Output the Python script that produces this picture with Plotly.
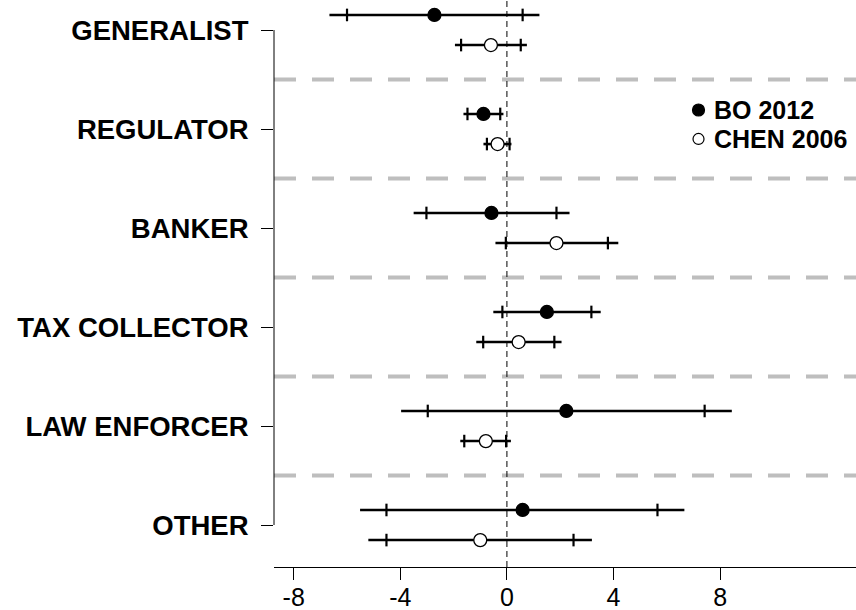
import plotly.graph_objects as go

categories = ["GENERALIST", "REGULATOR", "BANKER", "TAX COLLECTOR", "LAW ENFORCER", "OTHER"]
positions = [6, 5, 4, 3, 2, 1]

bo_est = [-2.72, -0.88, -0.58, 1.50, 2.23, 0.59]
bo_lo95 = [-6.66, -1.63, -3.50, -0.51, -3.97, -5.51]
bo_hi95 = [1.22, -0.13, 2.35, 3.52, 8.44, 6.66]
bo_lo90 = [-6.00, -1.48, -3.02, -0.17, -2.97, -4.52]
bo_hi90 = [0.59, -0.25, 1.86, 3.17, 7.42, 5.65]

chen_est = [-0.60, -0.35, 1.86, 0.44, -0.79, -1.00]
chen_lo95 = [-1.95, -0.88, -0.43, -1.15, -1.75, -5.20]
chen_hi95 = [0.75, 0.17, 4.18, 2.05, 0.15, 3.19]
chen_lo90 = [-1.72, -0.75, -0.04, -0.89, -1.60, -4.52]
chen_hi90 = [0.52, 0.10, 3.79, 1.78, -0.03, 2.50]

x_ticks = [-8, -4, 0, 4, 8]
series_names = ["BO 2012", "CHEN 2006"]
offset = 0.152

FONT = "Liberation Sans, Arial, sans-serif"

fig = go.Figure()


def add_series(est, lo95, hi95, lo90, hi90, shift, filled):
    ys = [p + shift for p in positions]
    lx, ly = [], []
    for a, b, y in zip(lo95, hi95, ys):
        lx += [a, b, None]
        ly += [y, y, None]
    fig.add_trace(go.Scatter(x=lx, y=ly, mode="lines",
                             line=dict(color="black", width=2.6),
                             showlegend=False, hoverinfo="skip"))
    fig.add_trace(go.Scatter(x=lo90 + hi90, y=ys + ys, mode="markers",
                             marker=dict(symbol="line-ns", size=9,
                                         line=dict(color="black", width=2.2)),
                             showlegend=False, hoverinfo="skip"))
    fig.add_trace(go.Scatter(x=est, y=ys, mode="markers",
                             marker=dict(symbol="circle", size=13,
                                         color="black" if filled else "white",
                                         line=dict(color="black", width=1.3)),
                             showlegend=False))


add_series(bo_est, bo_lo95, bo_hi95, bo_lo90, bo_hi90, offset, True)
add_series(chen_est, chen_lo95, chen_hi95, chen_lo90, chen_hi90, -offset, False)

# legend (markers on an overlay unit axis, labels as annotations)
leg_x_marker = 0.7294
leg_x_text = 0.7526
leg_y = [0.806, 0.7549]
leg_fill = ["#000000", "#ffffff"]
leg_size = [12, 11]
for yy, fc, sz in zip(leg_y, leg_fill, leg_size):
    fig.add_trace(go.Scatter(x=[leg_x_marker], y=[yy], xaxis="x2", yaxis="y2",
                             mode="markers", showlegend=False, hoverinfo="skip",
                             marker=dict(symbol="circle", size=sz, color=fc, opacity=1,
                                         line=dict(color="#000000", width=1.2))))
annotations = []
for name, yy in zip(series_names, leg_y):
    annotations.append(dict(xref="paper", yref="paper", x=leg_x_text, y=yy,
                            xanchor="left", yanchor="middle", showarrow=False,
                            text=name,
                            font=dict(family=FONT, size=25, weight="bold", color="black")))

shapes = []
for i in range(len(positions) - 1):
    ysep = (positions[i] + positions[i + 1]) / 2
    shapes.append(dict(type="line", xref="paper", x0=0, x1=1, yref="y", y0=ysep, y1=ysep,
                       line=dict(color="#bebebe", width=4, dash="22px,16px"), layer="below"))
shapes.append(dict(type="line", xref="x", x0=0, x1=0, yref="paper", y0=0, y1=1,
                   line=dict(color="black", width=1, dash="6px,4px"), layer="below"))
shapes.append(dict(type="line", xref="paper", x0=0, x1=0, yref="y",
                   y0=min(positions), y1=max(positions),
                   line=dict(color="black", width=1)))

fig.update_layout(
    width=856, height=610,
    margin=dict(l=274, r=0, t=0, b=43, autoexpand=False),
    paper_bgcolor="white", plot_bgcolor="white",
    font=dict(family=FONT, color="black"),
    shapes=shapes,
    annotations=annotations,
    showlegend=False,
    xaxis=dict(range=[-8.74, 13.1], tickvals=x_ticks, ticktext=[str(v) for v in x_ticks],
               automargin=False,
               showgrid=False, zeroline=False, showline=True, linecolor="black", linewidth=1,
               ticks="outside", ticklen=12, tickcolor="black", tickwidth=1,
               ticklabelstandoff=-4,
               tickfont=dict(family=FONT, size=25, color="black")),
    yaxis=dict(range=[0.576, 6.303], tickvals=positions, ticktext=categories,
               automargin=False,
               showgrid=False, zeroline=False, showline=False,
               ticks="outside", ticklen=12, tickcolor="black", tickwidth=1,
               ticklabelstandoff=7,
               tickfont=dict(family=FONT, size=27.5, weight="bold", color="black")),
    xaxis2=dict(range=[0, 1], overlaying="x", visible=False, fixedrange=True),
    yaxis2=dict(range=[0, 1], overlaying="y", visible=False, fixedrange=True),
)

fig.write_html("out.html", config={"displayModeBar": False},
               post_script="document.body.style.margin='0px';")
